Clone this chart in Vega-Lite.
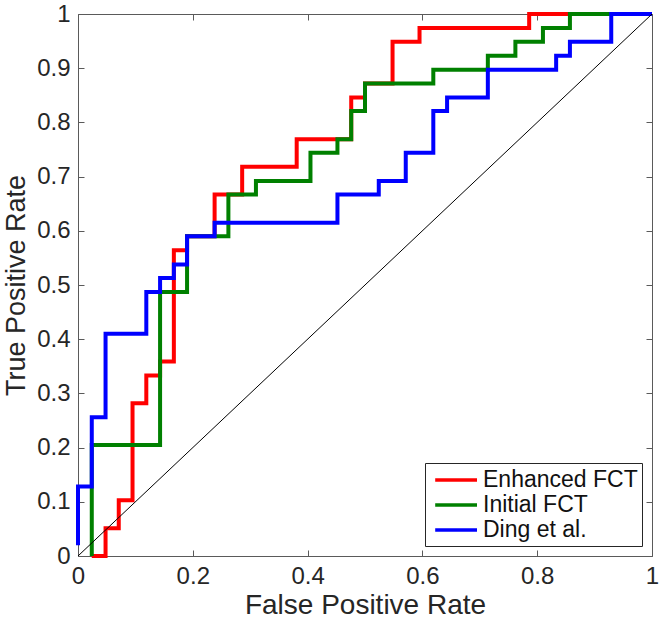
{
  "$schema": "https://vega.github.io/schema/vega-lite/v6.json",
  "width": 574,
  "height": 542,
  "autosize": {"type": "none"},
  "padding": {"left": 78, "top": 14, "right": 7, "bottom": 63},
  "background": "white",
  "config": {
    "view": {"stroke": "#5a5a5a", "strokeWidth": 1},
    "font": "Liberation Sans",
    "axis": {
      "grid": false,
      "domain": false,
      "tickColor": "#5a5a5a",
      "tickSize": -6,
      "tickWidth": 1,
      "labelFlush": false,
      "labelFont": "Liberation Sans",
      "labelFontSize": 24,
      "labelColor": "#262626",
      "titleFont": "Liberation Sans",
      "titleFontWeight": "normal",
      "titleColor": "#262626"
    },
    "legend": {
      "labelFont": "Liberation Sans"
    }
  },
  "layer": [
    {
      "data": {
        "values": [
          {"curve": "Enhanced FCT", "i": 0, "fpr": 0.024, "tpr": 0},
          {"curve": "Enhanced FCT", "i": 1, "fpr": 0.048, "tpr": 0},
          {"curve": "Enhanced FCT", "i": 2, "fpr": 0.048, "tpr": 0.051},
          {"curve": "Enhanced FCT", "i": 3, "fpr": 0.071, "tpr": 0.051},
          {"curve": "Enhanced FCT", "i": 4, "fpr": 0.071, "tpr": 0.103},
          {"curve": "Enhanced FCT", "i": 5, "fpr": 0.095, "tpr": 0.103},
          {"curve": "Enhanced FCT", "i": 6, "fpr": 0.095, "tpr": 0.282},
          {"curve": "Enhanced FCT", "i": 7, "fpr": 0.119, "tpr": 0.282},
          {"curve": "Enhanced FCT", "i": 8, "fpr": 0.119, "tpr": 0.333},
          {"curve": "Enhanced FCT", "i": 9, "fpr": 0.143, "tpr": 0.333},
          {"curve": "Enhanced FCT", "i": 10, "fpr": 0.143, "tpr": 0.359},
          {"curve": "Enhanced FCT", "i": 11, "fpr": 0.167, "tpr": 0.359},
          {"curve": "Enhanced FCT", "i": 12, "fpr": 0.167, "tpr": 0.564},
          {"curve": "Enhanced FCT", "i": 13, "fpr": 0.19, "tpr": 0.564},
          {"curve": "Enhanced FCT", "i": 14, "fpr": 0.19, "tpr": 0.59},
          {"curve": "Enhanced FCT", "i": 15, "fpr": 0.238, "tpr": 0.59},
          {"curve": "Enhanced FCT", "i": 16, "fpr": 0.238, "tpr": 0.667},
          {"curve": "Enhanced FCT", "i": 17, "fpr": 0.286, "tpr": 0.667},
          {"curve": "Enhanced FCT", "i": 18, "fpr": 0.286, "tpr": 0.718},
          {"curve": "Enhanced FCT", "i": 19, "fpr": 0.381, "tpr": 0.718},
          {"curve": "Enhanced FCT", "i": 20, "fpr": 0.381, "tpr": 0.769},
          {"curve": "Enhanced FCT", "i": 21, "fpr": 0.476, "tpr": 0.769},
          {"curve": "Enhanced FCT", "i": 22, "fpr": 0.476, "tpr": 0.846},
          {"curve": "Enhanced FCT", "i": 23, "fpr": 0.5, "tpr": 0.846},
          {"curve": "Enhanced FCT", "i": 24, "fpr": 0.5, "tpr": 0.872},
          {"curve": "Enhanced FCT", "i": 25, "fpr": 0.548, "tpr": 0.872},
          {"curve": "Enhanced FCT", "i": 26, "fpr": 0.548, "tpr": 0.949},
          {"curve": "Enhanced FCT", "i": 27, "fpr": 0.595, "tpr": 0.949},
          {"curve": "Enhanced FCT", "i": 28, "fpr": 0.595, "tpr": 0.974},
          {"curve": "Enhanced FCT", "i": 29, "fpr": 0.786, "tpr": 0.974},
          {"curve": "Enhanced FCT", "i": 30, "fpr": 0.786, "tpr": 1},
          {"curve": "Enhanced FCT", "i": 31, "fpr": 1, "tpr": 1},
          {"curve": "Initial FCT", "i": 0, "fpr": 0.024, "tpr": 0},
          {"curve": "Initial FCT", "i": 1, "fpr": 0.024, "tpr": 0.205},
          {"curve": "Initial FCT", "i": 2, "fpr": 0.143, "tpr": 0.205},
          {"curve": "Initial FCT", "i": 3, "fpr": 0.143, "tpr": 0.487},
          {"curve": "Initial FCT", "i": 4, "fpr": 0.19, "tpr": 0.487},
          {"curve": "Initial FCT", "i": 5, "fpr": 0.19, "tpr": 0.59},
          {"curve": "Initial FCT", "i": 6, "fpr": 0.262, "tpr": 0.59},
          {"curve": "Initial FCT", "i": 7, "fpr": 0.262, "tpr": 0.667},
          {"curve": "Initial FCT", "i": 8, "fpr": 0.31, "tpr": 0.667},
          {"curve": "Initial FCT", "i": 9, "fpr": 0.31, "tpr": 0.692},
          {"curve": "Initial FCT", "i": 10, "fpr": 0.405, "tpr": 0.692},
          {"curve": "Initial FCT", "i": 11, "fpr": 0.405, "tpr": 0.744},
          {"curve": "Initial FCT", "i": 12, "fpr": 0.452, "tpr": 0.744},
          {"curve": "Initial FCT", "i": 13, "fpr": 0.452, "tpr": 0.769},
          {"curve": "Initial FCT", "i": 14, "fpr": 0.476, "tpr": 0.769},
          {"curve": "Initial FCT", "i": 15, "fpr": 0.476, "tpr": 0.821},
          {"curve": "Initial FCT", "i": 16, "fpr": 0.5, "tpr": 0.821},
          {"curve": "Initial FCT", "i": 17, "fpr": 0.5, "tpr": 0.872},
          {"curve": "Initial FCT", "i": 18, "fpr": 0.619, "tpr": 0.872},
          {"curve": "Initial FCT", "i": 19, "fpr": 0.619, "tpr": 0.897},
          {"curve": "Initial FCT", "i": 20, "fpr": 0.714, "tpr": 0.897},
          {"curve": "Initial FCT", "i": 21, "fpr": 0.714, "tpr": 0.923},
          {"curve": "Initial FCT", "i": 22, "fpr": 0.762, "tpr": 0.923},
          {"curve": "Initial FCT", "i": 23, "fpr": 0.762, "tpr": 0.949},
          {"curve": "Initial FCT", "i": 24, "fpr": 0.81, "tpr": 0.949},
          {"curve": "Initial FCT", "i": 25, "fpr": 0.81, "tpr": 0.974},
          {"curve": "Initial FCT", "i": 26, "fpr": 0.857, "tpr": 0.974},
          {"curve": "Initial FCT", "i": 27, "fpr": 0.857, "tpr": 1},
          {"curve": "Initial FCT", "i": 28, "fpr": 1, "tpr": 1},
          {"curve": "Ding et al.", "i": 0, "fpr": 0, "tpr": 0.02},
          {"curve": "Ding et al.", "i": 1, "fpr": 0, "tpr": 0.128},
          {"curve": "Ding et al.", "i": 2, "fpr": 0.024, "tpr": 0.128},
          {"curve": "Ding et al.", "i": 3, "fpr": 0.024, "tpr": 0.256},
          {"curve": "Ding et al.", "i": 4, "fpr": 0.048, "tpr": 0.256},
          {"curve": "Ding et al.", "i": 5, "fpr": 0.048, "tpr": 0.41},
          {"curve": "Ding et al.", "i": 6, "fpr": 0.119, "tpr": 0.41},
          {"curve": "Ding et al.", "i": 7, "fpr": 0.119, "tpr": 0.487},
          {"curve": "Ding et al.", "i": 8, "fpr": 0.143, "tpr": 0.487},
          {"curve": "Ding et al.", "i": 9, "fpr": 0.143, "tpr": 0.513},
          {"curve": "Ding et al.", "i": 10, "fpr": 0.167, "tpr": 0.513},
          {"curve": "Ding et al.", "i": 11, "fpr": 0.167, "tpr": 0.538},
          {"curve": "Ding et al.", "i": 12, "fpr": 0.19, "tpr": 0.538},
          {"curve": "Ding et al.", "i": 13, "fpr": 0.19, "tpr": 0.59},
          {"curve": "Ding et al.", "i": 14, "fpr": 0.238, "tpr": 0.59},
          {"curve": "Ding et al.", "i": 15, "fpr": 0.238, "tpr": 0.615},
          {"curve": "Ding et al.", "i": 16, "fpr": 0.452, "tpr": 0.615},
          {"curve": "Ding et al.", "i": 17, "fpr": 0.452, "tpr": 0.667},
          {"curve": "Ding et al.", "i": 18, "fpr": 0.524, "tpr": 0.667},
          {"curve": "Ding et al.", "i": 19, "fpr": 0.524, "tpr": 0.692},
          {"curve": "Ding et al.", "i": 20, "fpr": 0.571, "tpr": 0.692},
          {"curve": "Ding et al.", "i": 21, "fpr": 0.571, "tpr": 0.744},
          {"curve": "Ding et al.", "i": 22, "fpr": 0.619, "tpr": 0.744},
          {"curve": "Ding et al.", "i": 23, "fpr": 0.619, "tpr": 0.821},
          {"curve": "Ding et al.", "i": 24, "fpr": 0.643, "tpr": 0.821},
          {"curve": "Ding et al.", "i": 25, "fpr": 0.643, "tpr": 0.846},
          {"curve": "Ding et al.", "i": 26, "fpr": 0.714, "tpr": 0.846},
          {"curve": "Ding et al.", "i": 27, "fpr": 0.714, "tpr": 0.897},
          {"curve": "Ding et al.", "i": 28, "fpr": 0.833, "tpr": 0.897},
          {"curve": "Ding et al.", "i": 29, "fpr": 0.833, "tpr": 0.923},
          {"curve": "Ding et al.", "i": 30, "fpr": 0.857, "tpr": 0.923},
          {"curve": "Ding et al.", "i": 31, "fpr": 0.857, "tpr": 0.949},
          {"curve": "Ding et al.", "i": 32, "fpr": 0.929, "tpr": 0.949},
          {"curve": "Ding et al.", "i": 33, "fpr": 0.929, "tpr": 1},
          {"curve": "Ding et al.", "i": 34, "fpr": 1, "tpr": 1}
        ]
      },
      "mark": {"type": "line", "strokeWidth": 4, "clip": false, "strokeJoin": "miter", "strokeCap": "butt"},
      "encoding": {
        "x": {
          "field": "fpr", "type": "quantitative",
          "scale": {"domain": [0, 1], "nice": false, "zero": false},
          "axis": {
            "orient": "bottom",
            "values": [0, 0.2, 0.4, 0.6, 0.8, 1],
            "format": "~g",
            "labelPadding": 14,
            "title": "False Positive Rate",
            "titleFontSize": 28,
            "titlePadding": 3
          }
        },
        "y": {
          "field": "tpr", "type": "quantitative",
          "scale": {"domain": [0, 1], "nice": false, "zero": false},
          "axis": {
            "orient": "left",
            "values": [0, 0.1, 0.2, 0.3, 0.4, 0.5, 0.6, 0.7, 0.8, 0.9, 1],
            "format": "~g",
            "labelPadding": 14,
            "title": "True Positive Rate",
            "titleFontSize": 27,
            "titlePadding": 6
          }
        },
        "color": {
          "field": "curve", "type": "nominal",
          "scale": {
            "domain": ["Enhanced FCT", "Initial FCT", "Ding et al."],
            "range": ["#ff0000", "#008000", "#0000ff"]
          },
          "legend": {
            "title": null,
            "orient": "bottom-right",
            "offset": 10,
            "symbolType": "M-2.8,0L1,0",
            "symbolSize": 484,
            "symbolOffset": 24,
            "symbolStrokeWidth": 3.5,
            "symbolFillColor": "transparent",
            "labelFontSize": 23,
            "labelColor": "#111111",
            "labelOffset": 4,
            "rowPadding": 0,
            "padding": 4,
            "strokeColor": "#262626",
            "fillColor": "white"
          }
        },
        "order": {"field": "i", "type": "quantitative"}
      }
    },
    {
      "data": {"values": [{"fpr": 0, "tpr": 0}, {"fpr": 1, "tpr": 1}]},
      "mark": {"type": "line", "color": "black", "strokeWidth": 1, "clip": false},
      "encoding": {
        "x": {
          "field": "fpr", "type": "quantitative",
          "axis": {"orient": "top", "values": [0, 0.2, 0.4, 0.6, 0.8, 1], "labels": false, "title": null}
        },
        "y": {
          "field": "tpr", "type": "quantitative",
          "axis": {"orient": "right", "values": [0, 0.1, 0.2, 0.3, 0.4, 0.5, 0.6, 0.7, 0.8, 0.9, 1], "labels": false, "title": null}
        }
      }
    }
  ],
  "resolve": {"axis": {"x": "independent", "y": "independent"}}
}
